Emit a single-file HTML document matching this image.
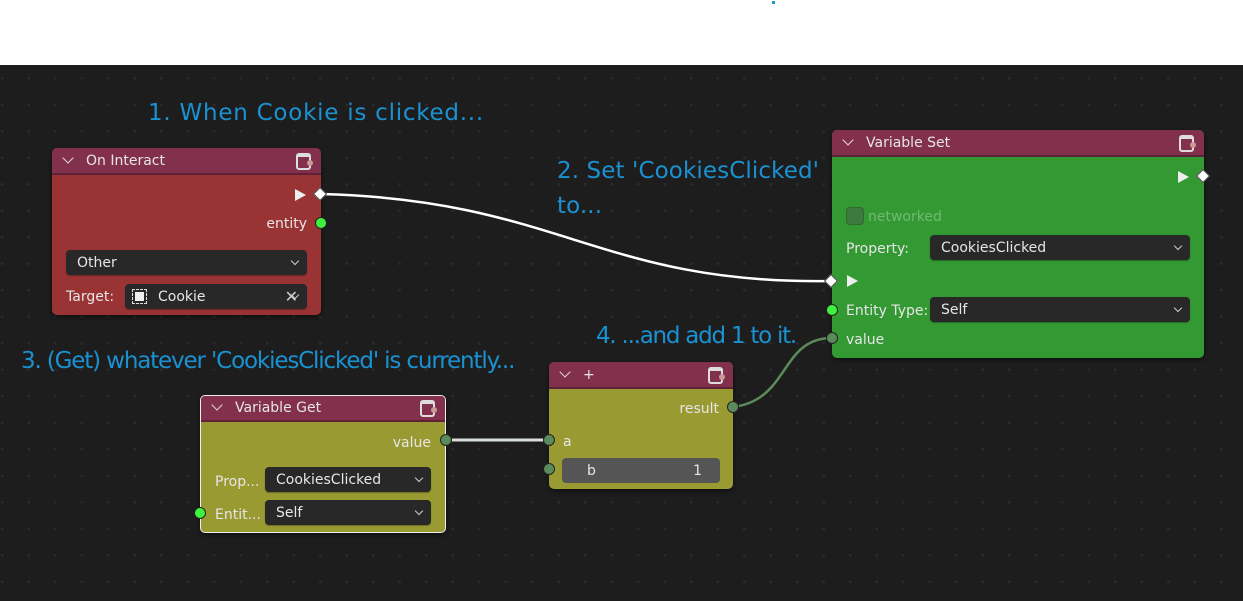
<!DOCTYPE html>
<html><head><meta charset="utf-8"><style>
*{box-sizing:border-box;margin:0;padding:0}
body{width:1243px;height:601px;background:#fff;position:relative;overflow:hidden;font-family:"DejaVu Sans","Liberation Sans",sans-serif;font-size:14px;color:#e6e6e6}
#canvas{position:absolute;left:0;top:65px;width:1243px;height:536px;background-color:#1d1d1d;
background-image:radial-gradient(circle,#2b2b2b 1.3px,transparent 1.6px);background-size:26.5px 26.5px;background-position:-11px 0px}
.ann{position:absolute;color:#1a92d2;font-size:23px;font-family:"DejaVu Sans","Liberation Sans",sans-serif;white-space:nowrap}
.node{position:absolute;border-radius:5px;overflow:hidden;box-shadow:0 2px 4px rgba(0,0,0,.5)}
.hdr{position:absolute;left:0;right:0;top:0;height:27px;background:#82304c;border-bottom:2px solid #5e2238}
.hdr span{position:absolute;left:34px;top:5px;font-size:14px}
.hdr .chev{position:absolute;left:12px;top:6px;width:8px;height:8px;border-right:1.5px solid #ddd;border-bottom:1.5px solid #ddd;transform:rotate(45deg)}
.hdr .ic{position:absolute;right:10px;top:5px;width:15px;height:17px;border:2px solid #ddd;border-radius:3px;border-top-width:4px}
.hdr .ic:after{content:"";position:absolute;right:-4px;top:3px;width:6px;height:6px;border-radius:50%;background:#c99}
.t{position:absolute;font-size:14px;white-space:nowrap;margin-top:2px}
.dd{position:absolute;background:#282828;border-radius:4px;height:25px;font-size:14px;padding:5px 11px 0;box-shadow:0 1px 1px rgba(0,0,0,.3)}
.dd:after{content:"";position:absolute;right:9px;top:8px;width:5px;height:5px;border-right:1.5px solid #ccc;border-bottom:1.5px solid #ccc;transform:rotate(45deg)}
.sock{position:absolute;width:12px;height:12px;border-radius:50%;border:1.5px solid #222;z-index:5}
.g{background:#3ef33e}.d{background:#5b8a5b}
.dia{position:absolute;width:10px;height:10px;background:#fff;border:1.5px solid #444;transform:rotate(45deg);z-index:5}
.tri{position:absolute;width:0;height:0;border-left:11px solid #eee;border-top:6px solid transparent;border-bottom:6px solid transparent}
</style></head><body>
<div style="position:absolute;left:772px;top:1px;width:3px;height:3px;background:#1aa0c8"></div>
<div id="canvas"></div>

<svg style="position:absolute;left:0;top:0;z-index:3" width="1243" height="601">
<path d="M321 194 C 560 200, 600 285, 832 281" stroke="#fff" stroke-width="2.5" fill="none"/>
<path d="M446 440 L549 440" stroke="#d8e0d8" stroke-width="3" fill="none"/>
<path d="M733 407 C 790 400, 780 338, 832 338" stroke="#5b8a5b" stroke-width="2.5" fill="none"/>
</svg>

<div class="ann" style="left:148px;top:100px;letter-spacing:0.75px">1. When Cookie is clicked...</div>
<div class="ann" style="left:557px;top:158px;letter-spacing:0.1px">2. Set 'CookiesClicked'</div>
<div class="ann" style="left:557px;top:193px;letter-spacing:0.1px">to...</div>
<div class="ann" style="left:21px;top:348px;letter-spacing:-1.15px">3. (Get) whatever 'CookiesClicked' is currently...</div>
<div class="ann" style="left:596px;top:323px;letter-spacing:-1.25px">4. ...and add 1 to it.</div>

<!-- On Interact -->
<div class="node" style="left:52px;top:148px;width:269px;height:167px;background:#9a3434">
<div class="hdr"><i class="chev"></i><span>On Interact</span><i class="ic"></i></div>
<div class="tri" style="left:243px;top:41px"></div>
<div class="t" style="right:14px;top:66px">entity</div>
<div class="dd" style="left:14px;top:102px;width:241px">Other</div>
<div class="t" style="left:14px;top:139px">Target:</div>
<div class="dd" style="left:73px;top:136px;width:182px;padding-left:33px">Cookie<span style="position:absolute;left:7px;top:5px;width:15px;height:15px;border:1.5px dashed #ddd"></span><span style="position:absolute;left:10px;top:8px;width:9px;height:9px;background:#eee"></span><span style="position:absolute;right:9px;top:3px;font-size:16px;color:#ccc">✕</span></div>
</div>
<div class="dia" style="left:315px;top:189px"></div>
<div class="sock g" style="left:315px;top:217px"></div>

<!-- Variable Set -->
<div class="node" style="left:832px;top:130px;width:372px;height:228px;background:#339933">
<div class="hdr"><i class="chev"></i><span>Variable Set</span><i class="ic"></i></div>
<div class="tri" style="left:346px;top:41px"></div>
<div style="position:absolute;left:14px;top:77px;width:18px;height:18px;border-radius:4px;background:#3d7a3d;border:1px solid #2e6a2e"></div>
<div class="t" style="left:36px;top:77px;color:#73b873">networked</div>
<div class="t" style="left:14px;top:109px">Property:</div>
<div class="dd" style="left:98px;top:105px;width:260px">CookiesClicked</div>
<div class="tri" style="left:15px;top:145px"></div>
<div class="t" style="left:14px;top:171px">Entity Type:</div>
<div class="dd" style="left:98px;top:167px;width:260px">Self</div>
<div class="t" style="left:14px;top:200px">value</div>
</div>
<div class="dia" style="left:1198px;top:171px"></div>
<div class="dia" style="left:826px;top:276px"></div>
<div class="sock g" style="left:826px;top:304px"></div>
<div class="sock d" style="left:826px;top:332px"></div>

<!-- Variable Get -->
<div class="node" style="left:200px;top:395px;width:246px;height:138px;background:#9a9a33;border:1.5px solid #eee">
<div class="hdr" style="top:-1px"><i class="chev"></i><span>Variable Get</span><i class="ic"></i></div>
<div class="t" style="right:14px;top:37px">value</div>
<div class="t" style="left:14px;top:76px">Prop...</div>
<div class="dd" style="left:64px;top:71px;width:166px">CookiesClicked</div>
<div class="t" style="left:14px;top:109px">Entit...</div>
<div class="dd" style="left:64px;top:104px;width:166px">Self</div>
</div>
<div class="sock d" style="left:440px;top:434px"></div>
<div class="sock g" style="left:194px;top:507px"></div>

<!-- + -->
<div class="node" style="left:549px;top:362px;width:184px;height:127px;background:#9a9a33">
<div class="hdr"><i class="chev"></i><span>+</span><i class="ic"></i></div>
<div class="t" style="right:14px;top:37px">result</div>
<div class="t" style="left:14px;top:70px">a</div>
<div style="position:absolute;left:13px;top:96px;width:158px;height:25px;border-radius:4px;background:#555;padding:5px 25px 0;font-size:14px">b<span style="position:absolute;right:18px;top:5px">1</span></div>
</div>
<div class="sock d" style="left:727px;top:401px"></div>
<div class="sock d" style="left:543px;top:434px"></div>
<div class="sock d" style="left:543px;top:463px"></div>
</body></html>
